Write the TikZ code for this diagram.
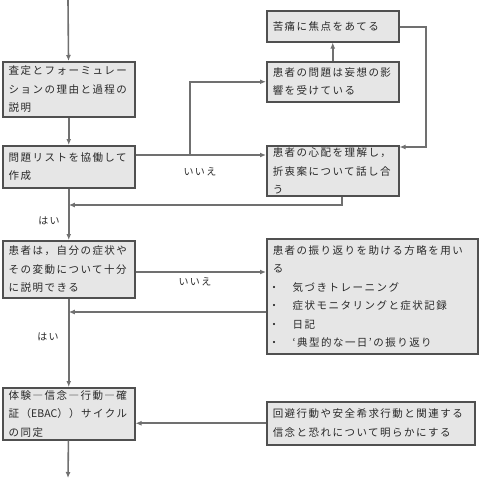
\documentclass[tikz,border=0pt]{standalone}
\usepackage{fontspec}
\usepackage{tikz}
\usetikzlibrary{arrows.meta}
\newfontfamily\jpfont[LetterSpace=14]{Noto Sans CJK JP}
\definecolor{boxgray}{RGB}{230,230,230}
\definecolor{edgegray}{RGB}{80,80,80}
\definecolor{linegray}{RGB}{112,112,112}
\definecolor{inkgray}{RGB}{40,40,40}
\newcommand{\listdot}{\makebox[20pt][l]{\kern-4pt ・}}
\newcommand{\latin}[1]{{\addfontfeature{LetterSpace=0}#1}}

\begin{document}
\begin{tikzpicture}[
        x=1pt, y=-1pt,
        box/.style={rectangle, draw=edgegray, fill=boxgray, line width=1.5pt,
            text=inkgray, anchor=north west,
            inner xsep=6pt, inner ysep=2pt,
            text width=#1, align=left,
            font=\jpfont\fontsize{10.5}{18.5}\selectfont},
        box/.default=120pt,
        flow/.style={-{Latex[length=6pt,width=5pt]}, draw=linegray, line width=1.6pt},
        link/.style={draw=linegray, line width=1.6pt},
        answer/.style={text=inkgray, font=\jpfont\fontsize{10}{12}\selectfont}
    ]
        \useasboundingbox (0,0) rectangle (480,485);

        % left column
        \node[box, minimum height=55pt] (assess) at (2,61)
            {査定とフォーミュレー\\ションの理由と過程の\\説明};
        \node[box, minimum height=42pt] (list) at (2,145)
            {問題リストを協働して\\作成};
        \node[box, minimum height=57pt] (report) at (2,240)
            {患者は，自分の症状や\\その変動について十分\\に説明できる};
        \node[box, minimum height=52pt] (ebac) at (2,387)
            {体験―信念―行動―確\\証（\latin{EBAC}））サイクル\\の同定};

        % right column
        \node[box, minimum height=31pt] (focus) at (266,10)
            {苦痛に焦点をあてる};
        \node[box, minimum height=40pt] (delus) at (266,61)
            {患者の問題は妄想の影\\響を受けている};
        \node[box, minimum height=50pt] (worry) at (266,145)
            {患者の心配を理解し，\\折衷案について話し合\\う};
        \node[box=199pt, minimum height=115pt] (strat) at (266,238)
            {患者の振り返りを助ける方略を用い\\る\\
             \listdot 気づきトレーニング\\
             \listdot 症状モニタリングと症状記録\\
             \listdot 日記\\
             \listdot ‘典型的な一日’の振り返り};
        \node[box=196pt, minimum height=43pt] (avoid) at (266,401)
            {回避行動や安全希求行動と関連する\\信念と恐れについて明らかにする};

        % turning points
        \coordinate (start) at (68,0);
        \coordinate (end) at (68,478);
        \coordinate (fork) at (190,155);
        \coordinate (rturn) at (426,27);
        \coordinate (back1) at (342,205);
        \coordinate (fork2) at (200,272);
        \coordinate (back2) at (266,312);

        % main line
        \draw[flow] (start) -- (assess);
        \draw[flow] (assess) -- (list);
        \draw[flow] (list) -- (report);
        \draw[flow] (report) -- (ebac);
        \draw[flow] (ebac) -- (end);

        % no-branch of the list
        \draw[link] (fork -| list.east) -- (fork);
        \draw[flow] (fork) |- (delus.west);
        \draw[flow] (fork) -- (fork -| worry.west);
        \draw[flow] (delus) -- (focus);
        \draw[flow] (focus.east |- rturn) -- (rturn) |- ([yshift=-2pt]worry.north east);
        \draw[flow] (back1 |- worry.south) -- (back1) -- (back1 -| list.south);

        % no-branch of the report
        \draw[flow] (fork2 -| report.east) -- (fork2 -| strat.west);
        \draw[flow] (back2) -- (back2 -| report.south);
        \draw[flow] (avoid.west) -- (avoid.west -| ebac.east);

        % answers
        \node[answer] (no1) at (200,172) {いいえ};
        \node[answer] (yes1) at (49,221) {はい};
        \node[answer] (no2) at (195,282) {いいえ};
        \node[answer] (yes2) at (48,337) {はい};
    \end{tikzpicture}
\end{document}
